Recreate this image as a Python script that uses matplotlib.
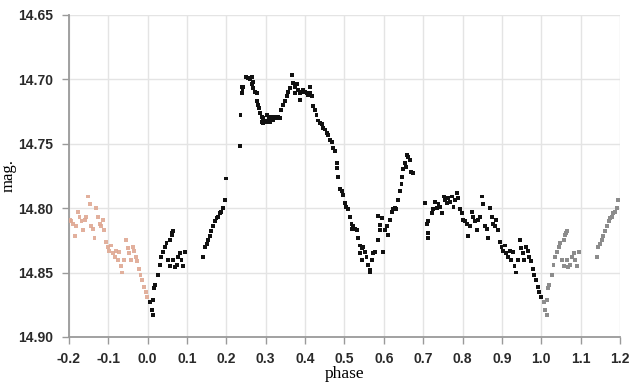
import matplotlib.pyplot as plt
import numpy as np

# folded light curve, one cycle of phase 0..1
phase = [
    0.006, 0.010, 0.014, 0.014, 0.016, 0.019, 0.027, 0.031, 0.035, 0.040,
    0.044, 0.048, 0.052, 0.057, 0.057, 0.061, 0.063, 0.065, 0.065, 0.069,
    0.074, 0.078, 0.082, 0.086, 0.090, 0.095,
    0.141, 0.145, 0.150, 0.154, 0.158, 0.162, 0.166, 0.171, 0.175, 0.179,
    0.183, 0.187, 0.192, 0.196, 0.199,
    0.234, 0.236, 0.239, 0.239, 0.241, 0.243, 0.251, 0.255, 0.260, 0.264,
    0.264, 0.268, 0.268, 0.273, 0.277, 0.277, 0.281, 0.284, 0.286, 0.290,
    0.290, 0.294, 0.294, 0.298, 0.303, 0.303, 0.307, 0.311, 0.311, 0.315,
    0.319, 0.319, 0.324, 0.328, 0.332, 0.336, 0.340, 0.345, 0.349, 0.353,
    0.357, 0.362, 0.366, 0.370, 0.374, 0.374, 0.379, 0.383, 0.387, 0.387,
    0.391, 0.395, 0.400, 0.404, 0.408, 0.412, 0.412, 0.417, 0.421, 0.425,
    0.429, 0.434, 0.438, 0.442, 0.446, 0.451, 0.455, 0.459, 0.463, 0.468,
    0.472, 0.476, 0.480, 0.480, 0.484, 0.488, 0.493, 0.497, 0.501, 0.505,
    0.510, 0.514, 0.518, 0.518, 0.522, 0.527, 0.531, 0.535, 0.539, 0.539,
    0.544, 0.544, 0.548, 0.552, 0.556, 0.561, 0.565, 0.565, 0.569, 0.573,
    0.578, 0.586, 0.586, 0.590, 0.590, 0.595, 0.599, 0.603, 0.607, 0.611,
    0.616, 0.620, 0.624, 0.628, 0.632, 0.636, 0.641, 0.645, 0.647, 0.649,
    0.654, 0.656, 0.658, 0.662, 0.666, 0.668, 0.673,
    0.704, 0.709, 0.713, 0.713, 0.713, 0.722, 0.726, 0.730, 0.735, 0.739,
    0.743, 0.747, 0.752, 0.756, 0.760, 0.764, 0.768, 0.773, 0.777, 0.781,
    0.785, 0.789, 0.794, 0.798, 0.802, 0.806, 0.811, 0.815, 0.819, 0.823,
    0.827, 0.832, 0.836, 0.840, 0.844, 0.849, 0.853, 0.857, 0.861, 0.865,
    0.870, 0.874, 0.878, 0.882, 0.886, 0.890, 0.895, 0.899, 0.903, 0.907,
    0.911, 0.916, 0.920, 0.924, 0.928, 0.932, 0.936, 0.941, 0.945, 0.949,
    0.953, 0.957, 0.962, 0.966, 0.970, 0.974, 0.978, 0.982, 0.986, 0.991,
    0.995, 0.999,
]
mag = [
    14.873, 14.879, 14.883, 14.871, 14.862, 14.860, 14.852, 14.844, 14.838, 14.834,
    14.830, 14.827, 14.840, 14.825, 14.845, 14.821, 14.819, 14.818, 14.840, 14.846,
    14.844, 14.838, 14.835, 14.840, 14.845, 14.834,
    14.838, 14.830, 14.828, 14.825, 14.822, 14.818, 14.814, 14.810, 14.808, 14.807,
    14.804, 14.803, 14.800, 14.794, 14.777,
    14.752, 14.728, 14.711, 14.706, 14.708, 14.706, 14.698, 14.699, 14.700, 14.698,
    14.704, 14.702, 14.707, 14.710, 14.711, 14.717, 14.720, 14.722, 14.726, 14.729,
    14.733, 14.730, 14.734, 14.732, 14.728, 14.733, 14.730, 14.729, 14.733, 14.730,
    14.729, 14.732, 14.729, 14.730, 14.729, 14.730, 14.724, 14.720, 14.717, 14.713,
    14.710, 14.707, 14.697, 14.703, 14.706, 14.711, 14.704, 14.708, 14.711, 14.716,
    14.710, 14.708, 14.710, 14.711, 14.712, 14.706, 14.711, 14.713, 14.721, 14.724,
    14.728, 14.732, 14.734, 14.735, 14.738, 14.739, 14.742, 14.743, 14.747, 14.749,
    14.753, 14.756, 14.765, 14.769, 14.776, 14.785, 14.787, 14.790, 14.796, 14.799,
    14.801, 14.807, 14.812, 14.816, 14.814, 14.816, 14.817, 14.823, 14.829, 14.835,
    14.831, 14.840, 14.830, 14.834, 14.838, 14.844, 14.848, 14.850, 14.840, 14.835,
    14.834, 14.825, 14.806, 14.817, 14.813, 14.808, 14.834, 14.817, 14.814, 14.821,
    14.809, 14.803, 14.801, 14.800, 14.801, 14.794, 14.787, 14.781, 14.776, 14.770,
    14.765, 14.768, 14.759, 14.760, 14.763, 14.772, 14.773,
    14.796, 14.812, 14.810, 14.819, 14.823, 14.804, 14.801, 14.795, 14.800, 14.797,
    14.799, 14.804, 14.791, 14.794, 14.796, 14.792, 14.795, 14.791, 14.799, 14.794,
    14.788, 14.792, 14.801, 14.804, 14.809, 14.810, 14.812, 14.822, 14.814, 14.803,
    14.807, 14.810, 14.817, 14.809, 14.807, 14.791, 14.797, 14.814, 14.816, 14.823,
    14.800, 14.807, 14.812, 14.814, 14.809, 14.817, 14.826, 14.830, 14.833, 14.829,
    14.835, 14.838, 14.833, 14.840, 14.834, 14.845, 14.850, 14.840, 14.825, 14.831,
    14.835, 14.840, 14.830, 14.833, 14.838, 14.841, 14.847, 14.852, 14.856, 14.861,
    14.865, 14.869,
]

xticks = [-0.2, -0.1, 0.0, 0.1, 0.2, 0.3, 0.4, 0.5, 0.6, 0.7, 0.8, 0.9, 1.0, 1.1, 1.2]
yticks = [14.65, 14.70, 14.75, 14.80, 14.85, 14.90]

phase = np.array(phase)
mag = np.array(mag)

# wrapped copies either side of the main cycle
lead = phase >= 0.8
trail = phase < 0.198

fig = plt.figure(figsize=(6.32, 3.9), dpi=100)
ax = fig.add_axes([0.109, 0.136, 0.872, 0.826])

ax.scatter(phase[lead] - 1.0, mag[lead], s=8, marker='s', color='#dfa892',
           edgecolors='none', alpha=0.9, zorder=3)
ax.scatter(phase[trail] + 1.0, mag[trail], s=8, marker='s', color='#8c8c8c',
           edgecolors='none', zorder=3)
ax.scatter(phase, mag, s=8, marker='s', color='#111111', edgecolors='none', zorder=3)

ax.set_xlim(-0.2, 1.2)
ax.set_ylim(14.90, 14.65)
ax.set_xticks(xticks)
ax.set_yticks(yticks)
ax.set_xticklabels(['%.1f' % t for t in xticks])
ax.set_yticklabels(['%.2f' % t for t in yticks])

ax.grid(True, color='#e4e4e4', linewidth=1.0, zorder=0)
ax.set_axisbelow(True)
for s in ['top', 'right']:
    ax.spines[s].set_visible(False)
for s in ['left', 'bottom']:
    ax.spines[s].set_color('#9a9a9a')
    ax.spines[s].set_linewidth(1.3)

ax.tick_params(direction='out', length=5, width=1, color='#9a9a9a', pad=6)
for lab in ax.get_xticklabels() + ax.get_yticklabels():
    lab.set_fontfamily('Liberation Sans')
    lab.set_fontweight('bold')
    lab.set_fontsize(10)
    lab.set_color('#2a2a2a')

ax.set_xlabel('phase', family='Liberation Serif', fontsize=12.5, labelpad=0)
ax.set_ylabel('mag.', family='Liberation Serif', fontsize=12)
ax.yaxis.set_label_coords(-0.095, 0.5)

fig.savefig('out.png', dpi=100)
